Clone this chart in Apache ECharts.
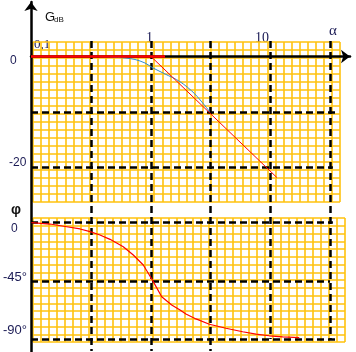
<!DOCTYPE html>
<html>
<head>
<meta charset="utf-8">
<script src="https://cdn.jsdelivr.net/npm/echarts@6/dist/echarts.min.js"></script>
<style>
  html, body { margin: 0; padding: 0; background: #fff; }
  #chart { width: 356px; height: 352px; }
</style>
</head>
<body>
<div id="chart"></div>
<script>
// reduced pulsation alpha, drawn on a log axis
const alphaMin = 0.099;
const alphaMax = 46.3;

// dashed reference lines
const alphaMarks = [0.316, 1, 3.16, 10, 31.6];
const gainMarks = [-10, -20];
const phaseMarks = [0, -45, -90];

// asymptotic gain (red): flat part then -20 dB/decade
const flatAlpha = [0.099, 1.31];
const flatGain = [0, 0];
const slopeAlpha = [1, 11.3];
const slopeGain = [0, -21.8];

// real gain (blue)
const realAlpha = [0.099, 0.34, 0.45, 0.606, 0.735, 0.89, 1.04, 1.31, 1.75, 2.33, 3.11];
const realGain = [0, 0, -0.1, -0.27, -0.54, -1.17, -2.07, -3.15, -4.54, -6.76, -10.0];

// phase (red)
const phaseAlpha = [0.1, 0.143, 0.197, 0.255, 0.309, 0.374, 0.454, 0.586, 0.711, 0.862, 0.949, 1.045,
  1.229, 1.49, 1.75, 1.96, 2.38, 3.08, 4.24, 5.85, 7.56, 9.77, 12.65, 17.4];
const phaseDeg = [0, -1.1, -3.2, -4.9, -7.0, -9.6, -12.9, -18.6, -25.0, -32.7, -39.1, -45.5,
  -57.2, -63.6, -67.4, -70.5, -74.3, -78.4, -81.5, -84.2, -86.0, -87.3, -88.1, -88.8];

// tick texts
const alphaLabels = ['0,1', '1', '10'];
const gainLabels = ['0', '-20'];
const phaseLabels = ['0', '-45°', '-90°'];

const chart = echarts.init(document.getElementById('chart'));

const yellow = '#FFC20E';
const ink = '#1b1b55';
const sans = 'Liberation Sans';
const serif = 'Liberation Serif';
const dash = { color: '#000', type: [7, 4], width: 2.5 };

const hidden = {
  axisLine: { show: false },
  axisTick: { show: false },
  axisLabel: { show: false },
  splitLine: { show: false },
};
const paper = {
  type: 'value',
  interval: 1,
  axisLine: { show: false },
  axisTick: { show: false },
  axisLabel: { show: false },
  splitLine: { show: true, lineStyle: { color: yellow, width: 1.6 } },
};

const zip = (xs, ys) => xs.map((x, i) => [x, ys[i]]);
const hLine = (v, end) => [{ coord: [alphaMin, v] }, { coord: [end, v] }];

const option = {
  animation: false,
  grid: [
    { left: 33, top: 42, width: 307, height: 160 },
    { left: 33, top: 218, width: 312, height: 124 },
    { left: 31, top: 41, width: 319, height: 163 },
    { left: 31, top: 218, width: 319, height: 124 },
    { left: 31, top: 41, width: 319, height: 310 },
    { left: 31, top: 2, width: 319, height: 350 },
  ],
  xAxis: [
    Object.assign({ gridIndex: 0, min: 0, max: 38 }, paper),
    Object.assign({ gridIndex: 1, min: 0, max: 39 }, paper),
    Object.assign({}, hidden, {
      gridIndex: 2, type: 'log', min: alphaMin, max: alphaMax,
      axisLine: {
        show: true, onZero: true, symbol: ['none', 'arrow'], symbolSize: [10, 9],
        lineStyle: { color: '#000', width: 2.5 },
      },
    }),
    Object.assign({ gridIndex: 3, type: 'log', min: alphaMin, max: alphaMax }, hidden),
    Object.assign({ gridIndex: 4, type: 'log', min: alphaMin, max: alphaMax }, hidden),
    Object.assign({ gridIndex: 5, type: 'value', min: 0, max: 1 }, hidden),
  ],
  yAxis: [
    Object.assign({ gridIndex: 0, min: 0, max: 20 }, paper),
    Object.assign({ gridIndex: 1, min: 0, max: 16 }, paper),
    Object.assign({ gridIndex: 2, type: 'value', min: -26.58, max: 2.79 }, hidden),
    Object.assign({ gridIndex: 3, type: 'value', min: -92.1, max: 3.55 }, hidden),
    Object.assign({ gridIndex: 4, type: 'value', min: 0, max: 1, inverse: true }, hidden),
    Object.assign({}, hidden, {
      gridIndex: 5, type: 'value', min: 0, max: 1,
      axisLine: {
        show: true, symbol: ['none', 'arrow'], symbolSize: [10, 9],
        lineStyle: { color: '#000', width: 2.5 },
      },
    }),
  ],
  series: [
    {
      // vertical dashed guides through both panels
      type: 'line', xAxisIndex: 4, yAxisIndex: 4, data: [], z: 3, silent: true,
      markLine: {
        silent: true, symbol: 'none', label: { show: false }, lineStyle: dash,
        data: alphaMarks.map((a, i) => [{ coord: [a, 0] }, { coord: [a, i < 3 ? 1 : 0.961] }]),
      },
    },
    {
      type: 'line', xAxisIndex: 2, yAxisIndex: 2, data: [], z: 3, silent: true,
      markLine: {
        silent: true, symbol: 'none', label: { show: false }, lineStyle: dash,
        data: [hLine(gainMarks[0], 37.4), hLine(gainMarks[1], 33.3)],
      },
    },
    {
      type: 'line', xAxisIndex: 3, yAxisIndex: 3, data: [], z: 3, silent: true,
      markLine: {
        silent: true, symbol: 'none', label: { show: false }, lineStyle: dash,
        data: [hLine(phaseMarks[0], 33.3), hLine(phaseMarks[1], 31.5), hLine(phaseMarks[2], 36.6)],
      },
    },
    {
      name: 'real gain', type: 'line', xAxisIndex: 2, yAxisIndex: 2, z: 5,
      data: zip(realAlpha, realGain), symbol: 'none', smooth: 0.3,
      lineStyle: { color: '#2d8ccf', width: 1 },
    },
    {
      name: 'asymptote', type: 'line', xAxisIndex: 2, yAxisIndex: 2, z: 6,
      data: zip(flatAlpha, flatGain), symbol: 'none',
      lineStyle: { color: '#ff0000', width: 2.5 },
    },
    {
      name: 'asymptote slope', type: 'line', xAxisIndex: 2, yAxisIndex: 2, z: 6,
      data: zip(slopeAlpha, slopeGain), symbol: 'none',
      lineStyle: { color: '#ff0000', width: 1 },
    },
    {
      name: 'phase', type: 'line', xAxisIndex: 3, yAxisIndex: 3, z: 6,
      data: zip(phaseAlpha, phaseDeg), symbol: 'none',
      lineStyle: { color: '#ff0000', width: 1.2 },
    },
  ],
  graphic: [
    { type: 'text', x: 45, y: 17, style: { text: 'G', font: '13px ' + sans, fill: '#111', verticalAlign: 'middle' } },
    { type: 'text', x: 54, y: 19.5, style: { text: 'dB', font: '8px ' + sans, fill: '#111', verticalAlign: 'middle' } },
    { type: 'text', x: 11, y: 210, style: { text: 'φ', font: 'bold 14px ' + sans, fill: '#111', verticalAlign: 'middle' } },
    { type: 'text', x: 34, y: 45, style: { text: alphaLabels[0], font: '13px ' + serif, fill: ink, verticalAlign: 'middle' } },
    { type: 'text', x: 146, y: 38, style: { text: alphaLabels[1], font: '14px ' + serif, fill: ink, verticalAlign: 'middle' } },
    { type: 'text', x: 255, y: 38, style: { text: alphaLabels[2], font: '14px ' + serif, fill: ink, verticalAlign: 'middle' } },
    { type: 'text', x: 329, y: 31, style: { text: 'α', font: '15px ' + serif, fill: ink, verticalAlign: 'middle' } },
    { type: 'text', x: 10, y: 61, style: { text: gainLabels[0], font: '12px ' + sans, fill: ink, verticalAlign: 'middle' } },
    { type: 'text', x: 9, y: 162.5, style: { text: gainLabels[1], font: '12px ' + sans, fill: ink, verticalAlign: 'middle' } },
    { type: 'text', x: 11, y: 229, style: { text: phaseLabels[0], font: '12px ' + sans, fill: ink, verticalAlign: 'middle' } },
    { type: 'text', x: 3, y: 277, style: { text: phaseLabels[1], font: '13px ' + sans, fill: ink, verticalAlign: 'middle' } },
    { type: 'text', x: 3, y: 330, style: { text: phaseLabels[2], font: '13px ' + sans, fill: ink, verticalAlign: 'middle' } },
  ],
};

chart.setOption(option);
</script>
</body>
</html>
